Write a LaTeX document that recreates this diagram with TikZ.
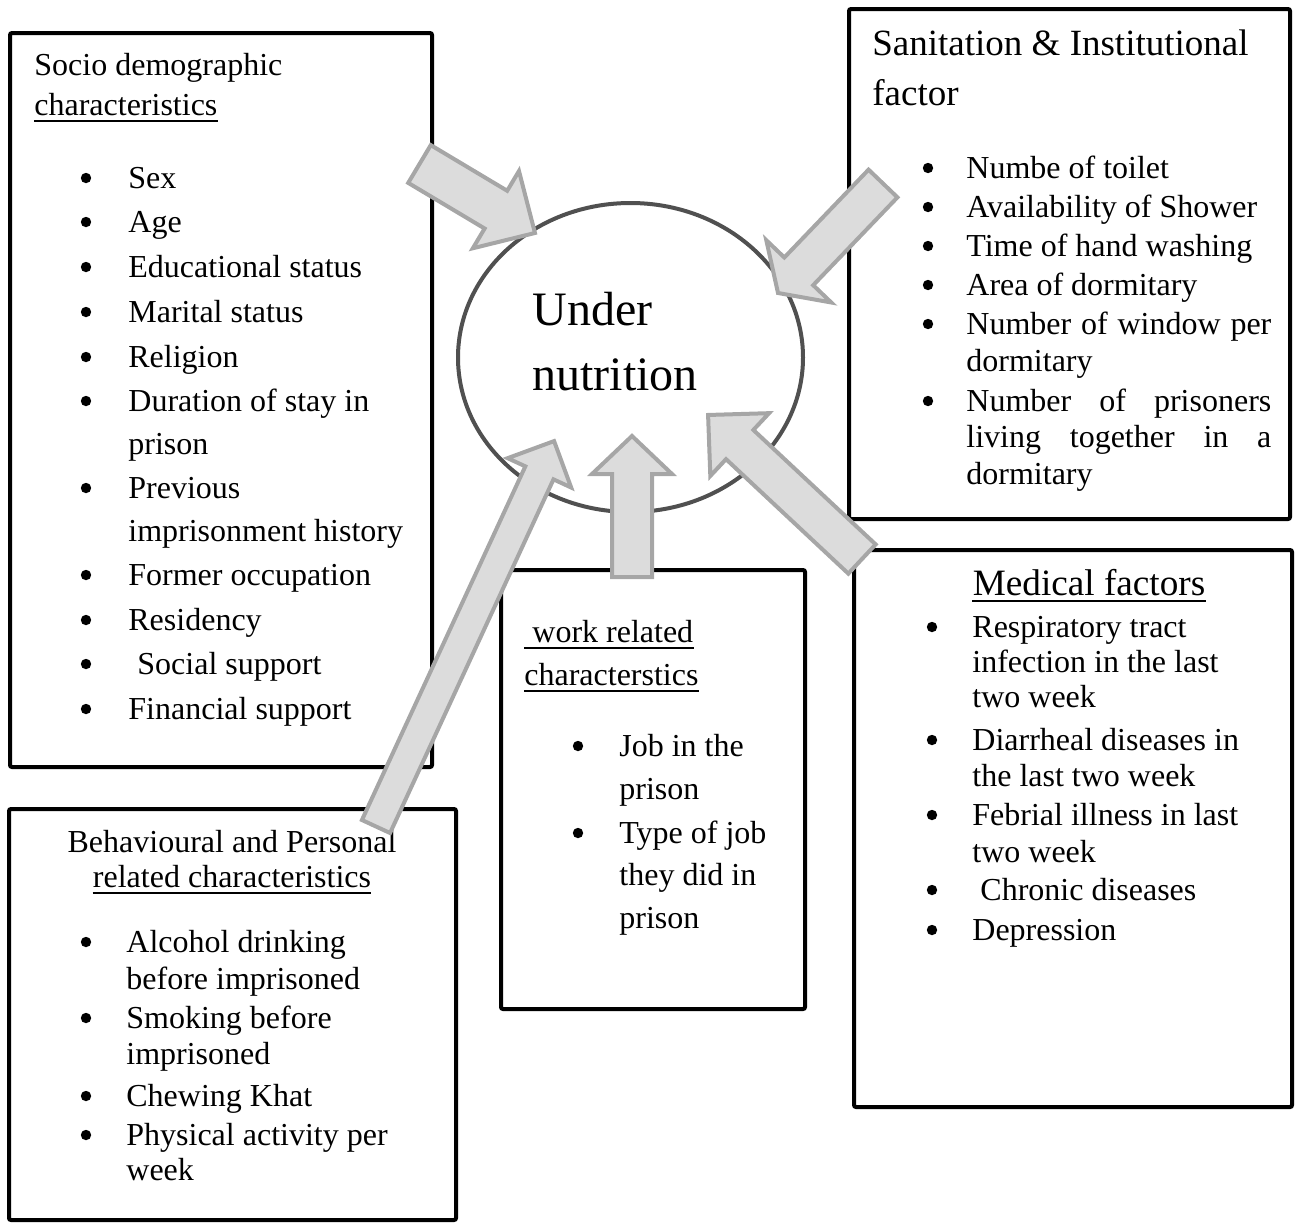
\documentclass[tikz,border=0pt]{standalone}
\usepackage{fontspec}
\setmainfont{Liberation Serif}
\usetikzlibrary{shapes.geometric}
\definecolor{arrfill}{HTML}{DCDCDC}
\definecolor{arrline}{HTML}{A6A6A6}
\definecolor{ellline}{HTML}{505050}
\newcommand\bodyfs{\fontsize{16}{19}\selectfont}
\newcommand\bul[2]{\fill (#1,#2-10) circle[radius=2.6pt];}
\newcommand\blockarrow[6]{%
  \begin{scope}[shift={(#1)},rotate=#2]
    \draw[arrowshape] (0,#4) -- ({#3-#6},#4) -- ({#3-#6},#5) -- (#3,0)
      -- ({#3-#6},-#5) -- ({#3-#6},-#4) -- (0,-#4) -- cycle;
  \end{scope}}
\begin{document}
\begin{tikzpicture}[x=0.5pt,y=-0.5pt,
  box/.style={draw=black,line width=2pt,rounded corners=1pt},
  txt/.style={anchor=base west,inner sep=0pt,font=\bodyfs},
  ctxt/.style={anchor=base,inner sep=0pt,font=\bodyfs},
  ul/.style={line width=0.8pt},
  arrowshape/.style={fill=arrfill,draw=arrline,line width=2pt,line join=miter},
  ell/.style={ellipse,draw=ellline,line width=2pt,inner sep=0pt,minimum width=172.5pt,minimum height=154.5pt}]
\useasboundingbox (0,0) rectangle (1302,1222);
% boxes
\draw[box] (10,33) rectangle (432,767);
\draw[box] (849,9) rectangle (1290,519);
\draw[box] (854,550) rectangle (1292,1107);
\draw[box] (501,570) rectangle (805,1009);
\draw[box] (9,809) rectangle (456,1220);
% central ellipse
\node[ell] (un) at (630.5,357.5) {};
\node[txt,font=\fontsize{24}{28}\selectfont] (un1) at (532,325) {Under};
\node[txt,font=\fontsize{24}{28}\selectfont] (un2) at (532,390) {nutrition};
% box 1
\node[txt] (h1a) at (34,75) {Socio demographic};
\node[txt] (h1b) at (34,115) {characteristics};
\draw[ul] ([yshift=-3pt]h1b.base west) -- ([yshift=-3pt]h1b.base east);
\bul{86}{188}\node[txt] (s1) at (128,188) {Sex};
\bul{86}{232}\node[txt] (s2) at (128,232) {Age};
\bul{86}{277}\node[txt] (s3) at (128,277) {Educational status};
\bul{86}{322}\node[txt] (s4) at (128,322) {Marital status};
\bul{86}{367}\node[txt] (s5) at (128,367) {Religion};
\bul{86}{411}\node[txt] (s6) at (128,411) {Duration of stay in};
\node[txt] (s6b) at (128,454) {prison};
\bul{86}{498}\node[txt] (s7) at (128,498) {Previous};
\node[txt] (s7b) at (128,541) {imprisonment history};
\bul{86}{585}\node[txt] (s8) at (128,585) {Former occupation};
\bul{86}{630}\node[txt] (s9) at (128,630) {Residency};
\bul{86}{674}\node[txt] (s10) at (137,674) {Social support};
\bul{86}{719}\node[txt] (s11) at (128,719) {Financial support};
% box 2
\node[txt,font=\fontsize{18.5}{22}\selectfont] (h2a) at (872,55) {Sanitation \& Institutional};
\node[txt,font=\fontsize{18.5}{22}\selectfont] (h2b) at (872,105) {factor};
\bul{928}{178}\node[txt] (p1) at (966,178) {Numbe of toilet};
\bul{928}{217}\node[txt] (p2) at (966,217) {Availability of Shower};
\bul{928}{256}\node[txt] (p3) at (966,256) {Time of hand washing};
\bul{928}{295}\node[txt] (p4) at (966,295) {Area of dormitary};
\bul{928}{334}\node[txt] (p5) at (966,334) {\makebox[152.5pt][s]{Number of window per}};
\node[txt] (p5b) at (966,371) {dormitary};
\bul{928}{411}\node[txt] (p6) at (966,411) {\makebox[152.5pt][s]{Number of prisoners}};
\node[txt] (p6b) at (966,447) {\makebox[152.5pt][s]{living together in a}};
\node[txt] (p6c) at (966,484) {dormitary};
% box 3
\node[ctxt,font=\fontsize{18.6}{22}\selectfont] (h3) at (1089,595) {Medical factors};
\draw[ul] ([yshift=-3pt]h3.base west) -- ([yshift=-3pt]h3.base east);
\bul{932}{637}\node[txt] (m1) at (972,637) {Respiratory tract};
\node[txt] (m1b) at (972,672) {infection in the last};
\node[txt] (m1c) at (972,707) {two week};
\bul{932}{750}\node[txt] (m2) at (972,750) {Diarrheal diseases in};
\node[txt] (m2b) at (972,786) {the last two week};
\bul{932}{825}\node[txt] (m3) at (972,825) {Febrial illness in last};
\node[txt] (m3b) at (972,862) {two week};
\bul{932}{900}\node[txt] (m4) at (980,900) {Chronic diseases};
\bul{932}{940}\node[txt] (m5) at (972,940) {Depression};
% box 4
\node[txt] (h4a) at (524,642) {\ work related};
\draw[ul] ([yshift=-3pt]h4a.base west) -- ([yshift=-3pt]h4a.base east);
\node[txt] (h4b) at (524,685) {characterstics};
\draw[ul] ([yshift=-3pt]h4b.base west) -- ([yshift=-3pt]h4b.base east);
\bul{578}{756}\node[txt] (w1) at (619,756) {Job in the};
\node[txt] (w1b) at (619,799) {prison};
\bul{578}{843}\node[txt] (w2) at (619,843) {Type of job};
\node[txt] (w2b) at (619,885) {they did in};
\node[txt] (w2c) at (619,928) {prison};
% box 5
\node[ctxt] (h5a) at (232,852) {Behavioural and Personal};
\node[ctxt] (h5b) at (232,887) {related characteristics};
\draw[ul] ([yshift=-3pt]h5b.base west) -- ([yshift=-3pt]h5b.base east);
\bul{86}{952}\node[txt] (b1) at (126,952) {Alcohol drinking};
\node[txt] (b1b) at (126,989) {before imprisoned};
\bul{86}{1028}\node[txt] (b2) at (126,1028) {Smoking before};
\node[txt] (b2b) at (126,1064) {imprisoned};
\bul{86}{1106}\node[txt] (b3) at (126,1106) {Chewing Khat};
\bul{86}{1145}\node[txt] (b4) at (126,1145) {Physical activity per};
\node[txt] (b4b) at (126,1180) {week};
% block arrows (tail, angle, length, half shaft, half head, head length)
\blockarrow{419.5,164}{-30.85}{134.5}{22}{45}{45.5}
\blockarrow{883,183.5}{-133.8}{151.7}{20}{45}{30}
\blockarrow{376,826.5}{65.2}{424.6}{15.5}{35}{35}
\blockarrow{632,577}{90}{141}{20}{40}{38}
\blockarrow{862,559}{136.9}{210.8}{20}{43}{43.3}
\end{tikzpicture}
\end{document}
